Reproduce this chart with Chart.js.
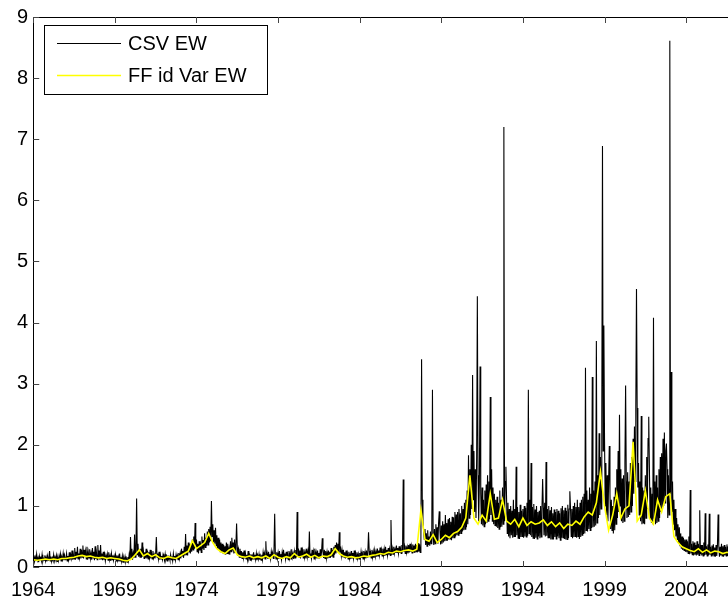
<!DOCTYPE html>
<html>
<head>
<meta charset="utf-8">
<script src="https://cdn.jsdelivr.net/npm/chart.js@4.4.1/dist/chart.umd.min.js"></script>
<style>
html,body{margin:0;padding:0;overflow:hidden;background:#fff;}
#wrap{width:740px;height:600px;}
</style>
</head>
<body>
<div id="wrap"><canvas id="chart" width="740" height="600"></canvas></div>
<script>
// CSV EW, twice a month, from Jan 1964
var csvEW = [
  0.12,0.19,0.09,0.16,0.10,0.21,0.11,0.15,0.08,0.18,0.12,0.17, 0.10,0.20,0.09,0.14,0.11,0.19,0.10,0.16,0.09,0.18,0.11,0.15, // 1964
  0.26,0.10,0.17,0.09,0.15,0.11,0.20,0.10,0.16,0.12,0.19,0.09, 0.15,0.10,0.18,0.11,0.21,0.10,0.16,0.12,0.22,0.11,0.19,0.12,
  0.13,0.22,0.10,0.18,0.12,0.24,0.11,0.20,0.14,0.27,0.12,0.21, 0.13,0.31,0.12,0.25,0.14,0.33,0.13,0.22,0.15,0.30,0.14,0.28,
  0.16,0.35,0.14,0.28,0.17,0.26,0.13,0.33,0.12,0.24,0.15,0.29, 0.14,0.22,0.12,0.31,0.15,0.25,0.11,0.34,0.13,0.23,0.12,0.36,
  0.14,0.27,0.12,0.36,0.13,0.22,0.11,0.25,0.12,0.20,0.10,0.19, 0.13,0.21,0.11,0.24,0.12,0.18,0.10,0.22,0.12,0.19,0.11,0.18,
  0.12,0.20,0.10,0.19,0.11,0.17,0.09,0.22,0.10,0.16,0.09,0.18, 0.08,0.15,0.10,0.17,0.09,0.14,0.08,0.16,0.10,0.20,0.11,0.49, // 1969
  0.14,0.30,0.12,0.22,0.15,0.53,0.16,0.25,1.12,0.20,0.38,0.17, 0.28,0.16,0.30,0.15,0.40,0.17,0.26,0.14,0.24,0.15,0.30,0.14,
  0.27,0.13,0.24,0.15,0.28,0.14,0.22,0.13,0.26,0.15,0.20,0.14, 0.23,0.49,0.16,0.22,0.13,0.25,0.12,0.20,0.13,0.18,0.12,0.21,
  0.18,0.11,0.21,0.12,0.17,0.10,0.19,0.13,0.16,0.11,0.20,0.12, 0.17,0.10,0.22,0.12,0.18,0.11,0.20,0.13,0.19,0.12,0.23,0.14,
  0.22,0.14,0.30,0.18,0.26,0.15,0.33,0.19,0.54,0.20,0.35,0.19, 0.40,0.24,0.32,0.22,0.38,0.25,0.45,0.28,0.50,0.30,0.72,0.32,
  0.45,0.25,0.38,0.22,0.42,0.27,0.36,0.24,0.50,0.30,0.44,0.28, 0.55,0.32,0.48,0.35,0.58,0.36,0.62,0.40,0.66,0.42,1.08,0.50, // 1974
  0.70,0.40,0.60,0.38,0.64,0.35,0.52,0.30,0.48,0.28,0.45,0.25, 0.40,0.24,0.38,0.22,0.36,0.21,0.34,0.20,0.40,0.22,0.38,0.21,
  0.30,0.20,0.42,0.25,0.48,0.27,0.40,0.22,0.45,0.24,0.36,0.71, 0.32,0.18,0.28,0.16,0.30,0.15,0.26,0.14,0.24,0.15,0.27,0.14,
  0.22,0.13,0.20,0.12,0.26,0.14,0.19,0.11,0.21,0.13,0.18,0.12, 0.24,0.13,0.20,0.12,0.22,0.11,0.19,0.13,0.21,0.12,0.18,0.11,
  0.20,0.12,0.24,0.14,0.22,0.13,0.42,0.15,0.22,0.13,0.25,0.14, 0.21,0.13,0.25,0.16,0.23,0.14,0.27,0.87,0.20,0.13,0.24,0.14,
  0.23,0.13,0.26,0.15,0.21,0.12,0.24,0.14,0.28,0.16,0.22,0.13, 0.25,0.14,0.21,0.12,0.26,0.15,0.23,0.13,0.29,0.16,0.22,0.13, // 1979
  0.25,0.15,0.28,0.16,0.90,0.18,0.30,0.16,0.27,0.14,0.32,0.17, 0.26,0.15,0.29,0.16,0.24,0.14,0.30,0.17,0.26,0.15,0.58,0.16,
  0.22,0.14,0.28,0.16,0.25,0.13,0.30,0.17,0.24,0.14,0.27,0.15, 0.23,0.14,0.29,0.16,0.26,0.47,0.25,0.15,0.28,0.14,0.26,0.14,
  0.24,0.14,0.27,0.16,0.25,0.15,0.31,0.17,0.28,0.16,0.33,0.20, 0.36,0.22,0.40,0.25,0.38,0.24,0.57,0.26,0.30,0.18,0.28,0.16,
  0.28,0.16,0.24,0.14,0.27,0.15,0.22,0.13,0.25,0.14,0.21,0.13, 0.26,0.15,0.23,0.14,0.27,0.15,0.22,0.13,0.24,0.14,0.21,0.13,
  0.23,0.14,0.25,0.15,0.22,0.13,0.26,0.15,0.24,0.14,0.27,0.16, 0.25,0.57,0.26,0.16,0.24,0.15,0.28,0.16,0.25,0.15,0.27,0.17, // 1984
  0.25,0.17,0.30,0.18,0.27,0.19,0.32,0.20,0.28,0.18,0.30,0.19, 0.29,0.18,0.33,0.20,0.28,0.19,0.31,0.20,0.29,0.19,0.77,0.20,
  0.30,0.21,0.33,0.22,0.29,0.23,0.35,0.24,0.31,0.22,0.34,0.23, 0.30,0.22,0.36,0.24,1.43,0.25,0.33,0.22,0.35,0.24,0.32,0.22,
  0.36,0.24,0.38,0.25,0.34,0.23,0.37,0.24,0.35,0.23,0.38,0.25, 0.36,0.24,0.39,0.25,0.37,0.24,0.40,3.40,1.10,0.75,0.60,0.45,
  0.62,0.36,0.55,0.34,0.60,0.36,0.50,0.35,0.58,0.38,0.52,2.90, 0.48,0.36,0.62,0.38,0.70,0.40,0.65,0.38,0.72,0.91,0.60,0.37,
  0.68,0.38,0.75,0.40,0.70,0.42,0.85,0.44,0.72,0.43,0.78,0.45, 0.80,0.46,0.74,0.44,0.82,0.47,0.81,0.48,0.90,0.50,0.86,0.52, // 1989
  0.90,0.52,0.95,0.54,0.88,0.55,1.00,0.58,0.95,0.60,1.05,0.62, 1.10,0.65,1.25,0.70,1.83,0.80,1.60,0.85,2.00,0.95,3.14,1.10,
  1.90,0.90,1.60,0.80,1.80,4.43,1.50,0.75,1.40,3.28,1.20,0.70, 1.30,0.68,1.10,0.66,1.25,0.70,1.35,0.72,1.50,0.75,1.40,0.78,
  2.78,0.85,1.60,0.75,1.30,0.70,1.20,0.68,1.10,0.66,1.15,0.64, 1.05,0.62,1.25,0.65,1.10,0.66,1.30,0.70,7.20,0.75,1.40,1.64,
  1.10,0.55,1.05,0.50,0.95,0.47,1.00,0.52,0.92,0.48,1.10,0.50, 0.95,0.49,1.64,0.52,0.98,0.47,0.90,0.46,1.02,0.49,0.92,0.50,
  0.95,0.48,1.00,0.50,0.97,0.49,1.05,0.51,2.90,0.55,1.10,0.52, 1.70,0.49,0.98,0.47,1.03,0.46,0.94,0.48,1.00,0.46,0.90,0.50, // 1994
  0.92,0.47,1.00,0.49,0.95,1.44,0.97,0.52,1.05,0.50,1.72,0.51, 0.95,0.48,1.00,0.47,0.93,0.45,0.98,0.46,0.88,0.45,0.94,0.49,
  0.90,0.46,0.95,0.50,0.92,0.47,0.88,0.44,0.96,0.48,1.00,0.48, 0.93,0.46,0.97,0.45,0.92,0.45,1.02,0.47,0.95,1.24,0.96,0.50,
  0.95,0.47,1.00,0.49,1.05,0.50,0.98,0.48,1.10,0.50,0.98,0.46, 1.05,0.49,1.10,0.52,1.15,0.54,1.20,0.55,3.26,0.60,1.25,0.58,
  1.10,0.62,1.30,0.60,1.20,0.64,3.11,0.65,1.25,0.66,1.40,0.68, 3.70,0.72,1.50,0.80,2.19,0.85,1.80,0.95,2.40,6.89,1.90,3.95,
  2.10,1.00,1.70,0.85,1.50,0.75,1.40,1.98,1.20,0.62,1.10,0.60, 1.00,0.55,1.15,0.60,1.30,0.70,1.60,0.80,1.90,0.90,2.49,1.00, // 1999
  1.60,0.75,1.45,0.72,1.50,0.75,1.70,2.97,1.40,0.80,1.55,0.82, 1.40,0.85,1.70,0.90,1.80,1.00,2.10,1.20,2.30,1.40,2.60,4.55,
  2.60,1.30,1.70,0.85,1.40,0.75,2.47,0.70,1.30,0.72,1.25,0.70, 1.50,0.80,1.80,0.95,2.10,2.46,1.60,0.80,1.30,0.72,1.20,0.70,
  4.08,0.80,1.40,0.70,1.50,0.72,1.30,0.75,1.60,0.80,1.80,0.90, 1.86,0.95,2.10,1.00,2.20,1.05,1.90,2.02,1.60,0.80,1.50,0.85,
  8.61,1.20,3.19,0.90,1.40,0.70,1.10,0.60,0.95,0.50,0.80,0.45, 0.70,0.38,0.65,0.35,0.55,0.30,0.50,0.28,0.48,0.27,0.45,0.25,
  0.45,0.24,0.42,0.22,0.50,0.21,1.26,0.22,0.38,0.20,0.42,0.19, 0.40,0.20,0.36,0.19,0.42,0.20,0.38,0.19,0.93,0.21,0.36,0.19, // 2004
  0.36,0.18,0.40,0.19,0.88,0.20,0.34,0.18,0.37,0.19,0.87,0.20, 0.33,0.18,0.35,0.19,0.37,0.18,0.32,0.17,0.36,0.18,0.34,0.86,
  0.35,0.17,0.33,0.19,0.38,0.18,0.34,0.17,0.36,0.19,0.33,0.18, 0.37,0.18,0.34,0.17,0.36,0.18,0.33,0.17,0.35,0.18,0.34,0.17,
  0.34,0.18,0.30,0.20,0.33,0.19,0.31,0.18
];

// FF id Var EW, quarterly, from 1964 Q1
var ffIdVarEW = [
  0.12,0.11,0.12,0.13, 0.12,0.13,0.12,0.14, 0.14,0.15,0.16,0.18, 0.19,0.17,0.18,0.16,
  0.15,0.16,0.14,0.15, 0.14,0.13,0.11,0.10, 0.13,0.20,0.28,0.18, 0.22,0.17,0.20,0.15,
  0.14,0.17,0.15,0.14, 0.18,0.22,0.26,0.43, 0.30,0.35,0.40,0.55, 0.40,0.30,0.25,0.22,
  0.28,0.31,0.20,0.17, 0.16,0.18,0.15,0.17, 0.15,0.18,0.14,0.20, 0.16,0.14,0.17,0.15,
  0.22,0.16,0.18,0.21, 0.16,0.19,0.15,0.18, 0.17,0.20,0.30,0.22, 0.18,0.16,0.17,0.15,
  0.16,0.18,0.17,0.19, 0.20,0.22,0.21,0.24, 0.23,0.26,0.25,0.27, 0.28,0.26,0.29,0.93,
  0.45,0.42,0.53,0.40, 0.45,0.52,0.48,0.55, 0.58,0.65,0.80,1.50, 0.80,0.70,0.85,0.75,
  1.20,0.78,0.80,1.10, 0.75,0.70,0.78,0.66, 0.80,0.68,0.74,0.70, 0.72,0.77,0.68,0.74,
  0.66,0.72,0.63,0.70, 0.68,0.75,0.70,0.82, 0.90,0.85,1.05,1.56, 1.00,0.60,0.85,1.20,
  0.80,0.95,1.00,2.05, 0.75,0.85,1.25,0.80, 0.70,1.10,0.90,1.15, 1.20,0.50,0.40,0.33,
  0.30,0.27,0.25,0.30, 0.24,0.28,0.23,0.26, 0.25,0.22,0.24,0.23, 0.22,0.21
];

var startYear = 1964;
var xTicks = [1964, 1969, 1974, 1979, 1984, 1989, 1994, 1999, 2004];
var yTicks = [0, 1, 2, 3, 4, 5, 6, 7, 8, 9];
var seriesNames = ['CSV EW', 'FF id Var EW'];
var fontFam = '"Liberation Sans", Arial, Helvetica, sans-serif';

var csvPts = csvEW.map(function (v, i) { return {x: startYear + i / 24, y: v}; });
var ffPts = ffIdVarEW.map(function (v, i) { return {x: startYear + i / 4, y: v}; });

// box around the axes, inward ticks and the legend (matlab look)
var framePlugin = {
  id: 'frame',
  afterDatasetsDraw: function (chart) {
    var ctx = chart.ctx, a = chart.chartArea;
    var xs = chart.scales.x, ys = chart.scales.y;
    ctx.save();
    ctx.strokeStyle = '#000';
    ctx.lineWidth = 1;
    ctx.strokeRect(Math.round(a.left) + 0.5, Math.round(a.top) + 0.5,
      Math.round(a.right - a.left) - 1, Math.round(a.bottom - a.top) - 1);
    ctx.strokeStyle = '#444';
    ctx.beginPath();
    xTicks.forEach(function (t) {
      var px = Math.round(xs.getPixelForValue(t)) + 0.5;
      ctx.moveTo(px, a.bottom); ctx.lineTo(px, a.bottom - 6);
      ctx.moveTo(px, a.top); ctx.lineTo(px, a.top + 6);
    });
    yTicks.forEach(function (t) {
      var py = Math.round(ys.getPixelForValue(t)) + 0.5;
      ctx.moveTo(a.left, py); ctx.lineTo(a.left + 6, py);
      ctx.moveTo(a.right, py); ctx.lineTo(a.right - 6, py);
    });
    ctx.stroke();

    // legend
    var lx = 44, ly = 25, lw = 223, lh = 69;
    ctx.fillStyle = '#fff';
    ctx.fillRect(lx, ly, lw, lh);
    ctx.strokeStyle = '#000';
    ctx.strokeRect(lx + 0.5, ly + 0.5, lw, lh);
    var cols = ['#000000', '#ffff00'];
    var rowsY = [43.5, 75.5];
    ctx.font = '20px ' + fontFam;
    ctx.textBaseline = 'middle';
    ctx.textAlign = 'left';
    for (var i = 0; i < 2; i++) {
      ctx.strokeStyle = cols[i];
      ctx.lineWidth = i === 0 ? 1 : 1.5;
      ctx.beginPath();
      ctx.moveTo(57, rowsY[i]); ctx.lineTo(121, rowsY[i]);
      ctx.stroke();
      ctx.fillStyle = '#000';
      ctx.fillText(seriesNames[i], 128, rowsY[i] + 1);
    }
    ctx.restore();
  }
};

new Chart(document.getElementById('chart'), {
  type: 'line',
  data: {
    datasets: [
      {label: seriesNames[0], data: csvPts, borderColor: '#000000', borderWidth: 1.1, pointRadius: 0, tension: 0, order: 2},
      {label: seriesNames[1], data: ffPts, borderColor: '#ffff00', borderWidth: 1.6, pointRadius: 0, tension: 0, order: 1}
    ]
  },
  options: {
    responsive: false,
    animation: false,
    layout: {padding: {top: 14, right: 0, left: 0, bottom: 0}},
    plugins: {legend: {display: false}, tooltip: {enabled: false}},
    scales: {
      x: {
        type: 'linear', min: 1964, max: 2007.3,
        afterBuildTicks: function (s) { s.ticks = xTicks.map(function (v) { return {value: v}; }); },
        afterFit: function (s) { s.height = 33; },
        grid: {display: false, drawTicks: false},
        border: {display: false},
        ticks: {color: '#000', font: {family: fontFam, size: 20}, padding: 11, maxRotation: 0, autoSkip: false,
          callback: function (v) { return String(v); }}
      },
      y: {
        min: 0, max: 9,
        afterBuildTicks: function (s) { s.ticks = yTicks.map(function (v) { return {value: v}; }); },
        afterFit: function (s) { s.width = 32; },
        grid: {display: false, drawTicks: false},
        border: {display: false},
        ticks: {color: '#000', font: {family: fontFam, size: 20}, padding: 5}
      }
    }
  },
  plugins: [framePlugin]
});
</script>
</body>
</html>
